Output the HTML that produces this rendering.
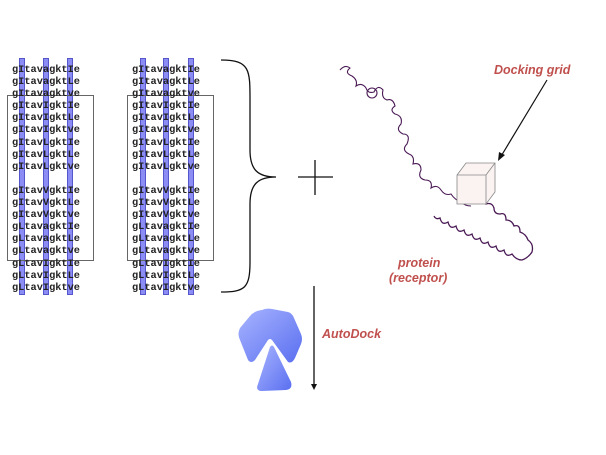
<!DOCTYPE html>
<html><head><style>
body{margin:0;width:606px;height:455px;background:#fff;position:relative;overflow:hidden;font-family:"Liberation Sans",sans-serif}
.col{position:absolute;top:64px;font-family:"Liberation Mono",monospace;font-size:10.3px;line-height:12.1px;color:#222;font-weight:bold;white-space:pre}
.bar{position:absolute;top:58px;height:237px;width:6px;background:#8c8cf5;border:1px solid #5555cc;box-sizing:border-box}
.box{position:absolute;top:95px;height:164px;border:1px solid #666}
.lbl{position:absolute;color:#c0504d;font-weight:bold;font-style:italic;font-size:12.5px}
</style></head><body>
<div class="bar" style="left:19px"></div><div class="bar" style="left:43px"></div><div class="bar" style="left:67px"></div>
<div class="bar" style="left:140px"></div><div class="bar" style="left:163px"></div><div class="bar" style="left:188px"></div>
<div class="box" style="left:7px;width:85px"></div>
<div class="box" style="left:127px;width:85px"></div>
<div class="col" style="left:12px">gItavagktIe
gItavagktLe
gItavagktve
gItavIgktIe
gItavIgktLe
gItavIgktve
gItavLgktIe
gItavLgktLe
gItavLgktve

gItavVgktIe
gItavVgktLe
gItavVgktve
gLtavagktIe
gLtavagktLe
gLtavagktve
gLtavIgktIe
gLtavIgktLe
gLtavIgktve</div>
<div class="col" style="left:132px">gItavagktIe
gItavagktLe
gItavagktve
gItavIgktIe
gItavIgktLe
gItavIgktve
gItavLgktIe
gItavLgktLe
gItavLgktve

gItavVgktIe
gItavVgktLe
gItavVgktve
gLtavagktIe
gLtavagktLe
gLtavagktve
gLtavIgktIe
gLtavIgktLe
gLtavIgktve</div>
<svg width="606" height="455" style="position:absolute;left:0;top:0">
<defs><linearGradient id="g" x1="0" y1="0" x2="1" y2="1"><stop offset="0" stop-color="#a8b4ff"/><stop offset="1" stop-color="#5a6ff0"/></linearGradient></defs>
<path d="M221 60 C250 60 250 70 250 100 L250 150 C250 170 258 177 276 177 C258 177 250 184 250 204 L250 262 C250 288 245 292 221 292" fill="none" stroke="#111" stroke-width="1.3"/>
<path d="M298 177 H333 M315 160 V195" stroke="#111" stroke-width="1.3"/>
<path d="M314 286 V388" stroke="#111" stroke-width="1.3"/><path d="M311 384 L314 390 L317 384" fill="#111"/>
<path d="M547 80 L500 158" stroke="#111" stroke-width="1.2"/><path d="M498 161 L499 152 L505 155 Z" fill="#111"/>
<path d="M340 70 q5 -6 10 -2 q-6 5 2 8 q6 4 4 10 q6 -4 10 2 q2 6 8 4 q4 -8 9 -2 q-2 8 4 10 q6 -2 8 6 q-6 4 0 8 q8 2 6 10 q-6 6 2 10 q8 0 4 10 q-6 6 2 10 q6 2 4 10 q8 -2 8 6 q-4 8 4 10 q8 0 6 8 q6 -4 10 2 q4 6 10 4 q4 6 10 8 q4 4 10 4" fill="none" stroke="#4a1a55" stroke-width="1.1"/>
<circle cx="372" cy="93" r="5" fill="none" stroke="#4a1a55" stroke-width="1.1"/>
<path d="M458 178 q3 -5 6 0 q3 5 6 0 q3 -5 6 0 q3 5 6 0 q3 -5 6 0" fill="none" stroke="#4a8a3a" stroke-width="1"/>
<path d="M480 196 q5 2 6 8 q6 -2 8 4 q0 6 6 6 q6 -2 6 6 q6 0 8 6 q6 -2 6 6 q6 2 8 8 q6 4 4 12 q-4 6 -10 8 q-6 0 -10 -6 q-6 4 -8 -4 q-6 4 -8 -4 q-6 4 -8 -4 q-6 4 -8 -4 q-6 4 -8 -4 q-6 4 -8 -4 q-6 4 -8 -4 q-6 4 -8 -4 q-6 4 -8 -4 q-4 2 -6 -2" fill="none" stroke="#4a1a55" stroke-width="1.3"/>
<g stroke="#888" stroke-width="0.8" fill="#fbf2f2">
<path d="M457 175 L466 163 L495 163 L495 192 L486 204 L457 204 Z"/>
<path d="M457 175 H486 V204 M486 175 L495 163" fill="none"/></g>
<path d="M262 310 Q266 308 272 309 L288 312 Q292 313 294 318 L301 334 Q303 339 301 344 L295 358 Q292 364 288 362 L272 340 Q270 338 268 340 L255 360 Q251 364 248 360 L240 340 Q237 334 240 328 L250 316 Q254 311 262 310 Z" fill="url(#g)"/>
<path d="M270 347 Q272 344 274 347 L291 382 Q293 389 286 390 L262 391 Q255 391 258 384 Z" fill="url(#g)"/>
</svg>
<div class="lbl" style="left:494px;top:63px">Docking grid</div>
<div class="lbl" style="left:398px;top:256px">protein</div>
<div class="lbl" style="left:389px;top:271px">(receptor)</div>
<div class="lbl" style="left:322px;top:327px">AutoDock</div>
</body></html>
